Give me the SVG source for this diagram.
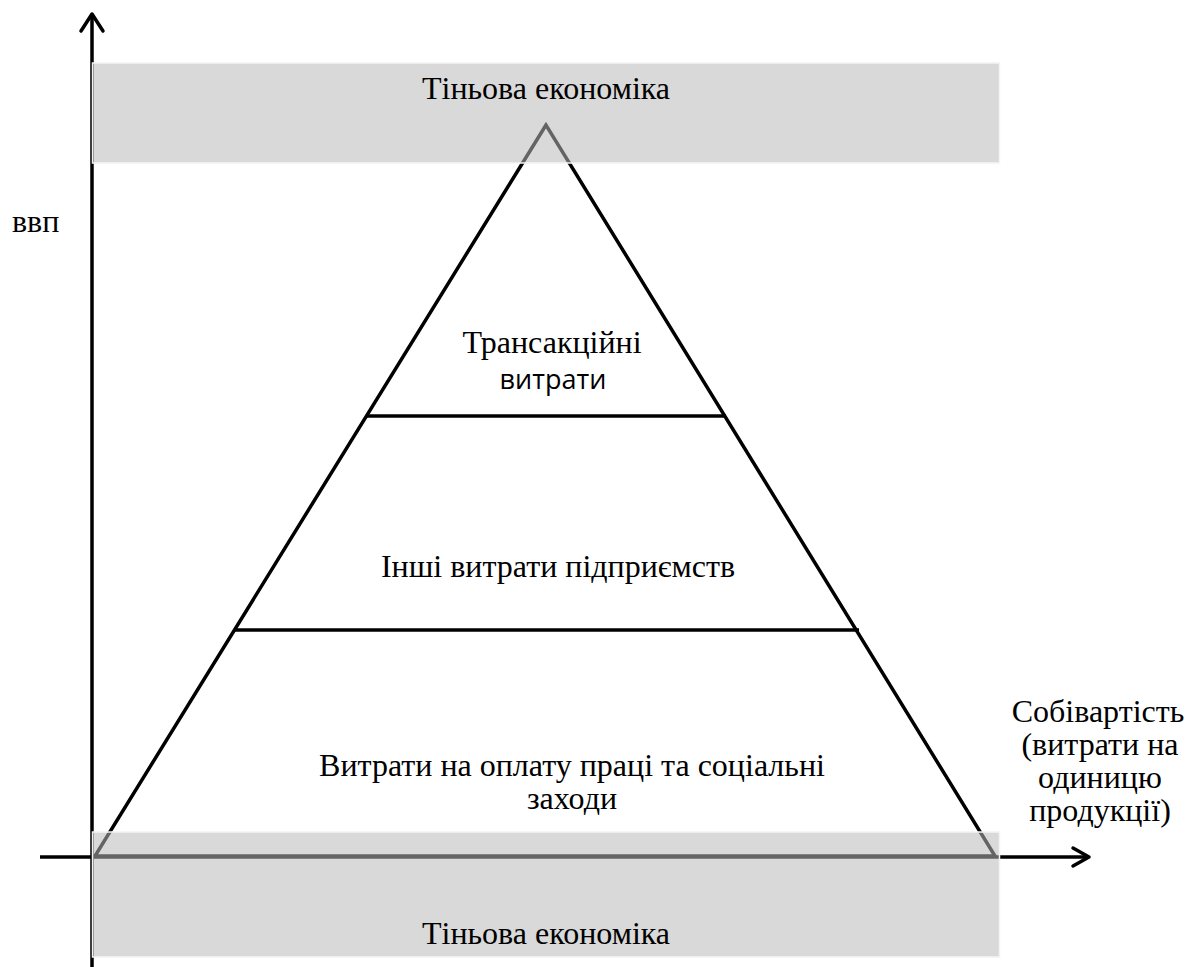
<svg xmlns="http://www.w3.org/2000/svg" width="1189" height="967" viewBox="0 0 1189 967">
<style>
.serif{font-family:"Liberation Serif","Times New Roman",serif;font-size:32px;fill:#000}
.sans{font-family:"Open Sans","Liberation Sans",sans-serif;font-size:27px;fill:#000}
.ln{stroke:#000;stroke-width:3.5;fill:none}
.arr{stroke:#000;stroke-width:3.5;fill:none;stroke-linecap:round;stroke-linejoin:round}
.shadow{fill:#b9b9b9;fill-opacity:0.54;stroke:#f4f4f4;stroke-width:1.5}
</style>
<rect width="1189" height="967" fill="#fff"/>
<g id="connectors">
  <line class="ln" x1="92" y1="15" x2="92" y2="967"/>
  <polyline class="arr" points="81,31 92,14 103,31"/>
  <line class="ln" x1="40" y1="857" x2="1088" y2="857"/>
  <polyline class="arr" points="1073,848 1089,857 1073,866"/>
</g>
<g id="pyramid">
  <polygon class="ln" points="546,125 95,856 995,856"/>
  <line class="ln" x1="366" y1="416" x2="726" y2="416"/>
  <line class="ln" x1="234" y1="630" x2="859" y2="630"/>
</g>
<g id="level-top">
  <text class="serif" x="552" y="353" text-anchor="middle">Трансакційні</text>
  <text class="sans" x="553" y="389" text-anchor="middle">витрати</text>
</g>
<g id="level-middle">
  <text class="serif" x="558" y="577" text-anchor="middle">Інші витрати підприємств</text>
</g>
<g id="level-bottom">
  <text class="serif" x="572" y="776" text-anchor="middle">Витрати на оплату праці та соціальні</text>
  <text class="serif" x="572" y="809" text-anchor="middle">заходи</text>
</g>
<g id="shadow-top">
  <rect class="shadow" x="92.5" y="63" width="907" height="100"/>
  <text class="serif" x="546" y="99" text-anchor="middle">Тіньова економіка</text>
</g>
<g id="shadow-bottom">
  <rect class="shadow" x="92.5" y="832" width="907" height="125"/>
  <text class="serif" x="546" y="944" text-anchor="middle">Тіньова економіка</text>
</g>
<g id="axis-y-label">
  <text class="serif" x="12" y="232" font-size="30">ввп</text>
</g>
<g id="axis-x-label">
  <text class="serif" x="1098" y="722" text-anchor="middle">Собівартість</text>
  <text class="serif" x="1100" y="755" text-anchor="middle">(витрати на</text>
  <text class="serif" x="1100" y="788" text-anchor="middle">одиницю</text>
  <text class="serif" x="1100" y="821" text-anchor="middle">продукції)</text>
</g>
</svg>
